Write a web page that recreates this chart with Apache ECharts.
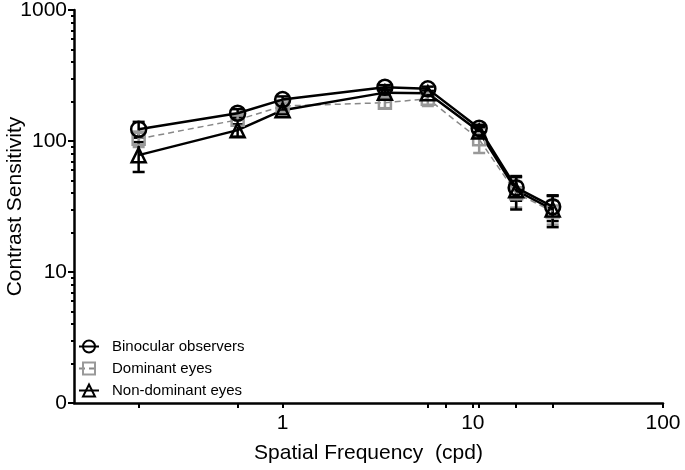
<!DOCTYPE html>
<html>
<head>
<meta charset="utf-8">
<script src="https://cdn.jsdelivr.net/npm/echarts@6/dist/echarts.min.js"></script>
<style>
html,body{margin:0;padding:0;background:#fff;}
#chart{width:685px;height:470px;}
</style>
</head>
<body>
<div id="chart"></div>
<script>
// Spatial frequencies (cpd)
const freqs = [0.175, 0.58, 1, 3.45, 5.8, 10.8, 16.9, 26.3];
// Contrast sensitivity means
const binocular = [123, 163, 207, 257, 250, 125, 44, 31.5];
const dominant = [104, 145, 185, 196, 210, 103, 40, 29];
const nonDominant = [78, 121, 172, 234, 231, 118, 42, 30];
// Error (±)
const binocularErr = [17, 12, 12, 10, 10, 8, 9, 7];
const dominantErr = [14, 12, 10, 18, 25, 22, 9, 6];
const nonDominantErr = [20, 13, 12, 10, 10, 10, 12, 8];
// Axis ticks
const xLabelTicks = [1, 10, 100];
const xMinorTicks = [0.175, 0.58, 5.8, 7.2, 10.8, 16.9, 26.3];
const yMajorTicks = [1, 10, 100, 1000];
const yMinorTicks = [2,3,4,5,6,7,8,9,20,30,40,50,60,70,80,90,200,300,400,500,600,700,800,900];

const FONT = '"Liberation Sans", Arial, sans-serif';

function pairs(vals) { return freqs.map((f, i) => [f, vals[i]]); }
function errData(vals, errs) { return freqs.map((f, i) => [f, vals[i] - errs[i], vals[i] + errs[i]]); }

function errSeries(name, vals, errs, color, width) {
  return {
    type: 'custom',
    name: name + ' err',
    data: errData(vals, errs),
    z: 1,
    silent: true,
    renderItem: function (params, api) {
      const x = api.value(0);
      const lo = api.coord([x, api.value(1)]);
      const hi = api.coord([x, api.value(2)]);
      const hw = 6;
      const style = { stroke: color, lineWidth: width, fill: null };
      return {
        type: 'group',
        children: [
          { type: 'line', shape: { x1: lo[0], y1: lo[1], x2: hi[0], y2: hi[1] }, style: style },
          { type: 'line', shape: { x1: lo[0] - hw, y1: lo[1], x2: lo[0] + hw, y2: lo[1] }, style: style },
          { type: 'line', shape: { x1: hi[0] - hw, y1: hi[1], x2: hi[0] + hw, y2: hi[1] }, style: style }
        ]
      };
    }
  };
}

const chart = echarts.init(document.getElementById('chart'), null, { renderer: 'canvas' });

chart.setOption({
  animation: false,
  backgroundColor: '#fff',
  grid: { left: 74, right: 22, top: 10, bottom: 67, containLabel: false, outerBoundsMode: 'none' },
  legend: {
    orient: 'vertical',
    left: 73,
    top: 334,
    itemGap: 7,
    itemWidth: 20,
    itemHeight: 15,
    data: ['Binocular observers', 'Dominant eyes', 'Non-dominant eyes'],
    textStyle: { fontFamily: FONT, fontSize: 15, color: '#000', padding: [0, 0, 0, 8] }
  },
  xAxis: [{
    type: 'log',
    logBase: 10,
    min: 0.08,
    max: 100,
    name: 'Spatial Frequency  (cpd)',
    nameLocation: 'middle',
    nameGap: 40,
    nameMoveOverlap: false,
    nameTextStyle: { fontFamily: FONT, fontSize: 21, color: '#000' },
    axisLine: { lineStyle: { color: '#000', width: 2.5 } },
    axisTick: { show: true, length: 5, lineStyle: { color: '#000', width: 2 }, customValues: xLabelTicks.concat(xMinorTicks) },
    axisLabel: { fontFamily: FONT, fontSize: 21, color: '#000', margin: 10, customValues: xLabelTicks, formatter: v => String(v) },
    splitLine: { show: false },
    minorTick: { show: false }
  }],
  yAxis: [{
    type: 'log',
    logBase: 10,
    min: 1,
    max: 1000,
    name: 'Contrast Sensitivity',
    nameLocation: 'middle',
    nameGap: 48,
    nameMoveOverlap: false,
    nameTextStyle: { fontFamily: FONT, fontSize: 21, color: '#000' },
    axisLine: { lineStyle: { color: '#000', width: 2.5 } },
    axisTick: { show: true, length: 6, lineStyle: { color: '#000', width: 2 }, customValues: yMajorTicks },
    axisLabel: { fontFamily: FONT, fontSize: 21, color: '#000', margin: 7, customValues: yMajorTicks, formatter: v => (v === 1 ? '0' : String(v)) },
    splitLine: { show: false }
  }, {
    type: 'log',
    logBase: 10,
    min: 1,
    max: 1000,
    position: 'left',
    offset: 0,
    axisLine: { show: false },
    axisTick: { show: true, length: 3, lineStyle: { color: '#000', width: 2 }, customValues: yMinorTicks },
    axisLabel: { show: false },
    splitLine: { show: false }
  }],
  series: [
    errSeries('Binocular observers', binocular, binocularErr, '#000', 2.5),
    errSeries('Dominant eyes', dominant, dominantErr, '#999', 2.5),
    errSeries('Non-dominant eyes', nonDominant, nonDominantErr, '#000', 2.5),
    {
      name: 'Binocular observers', type: 'line', data: pairs(binocular), z: 5,
      symbol: 'circle', symbolSize: 15, showAllSymbol: true,
      lineStyle: { color: '#000', width: 2.5 },
      itemStyle: { color: 'rgba(255,255,255,0)', borderColor: '#000', borderWidth: 2.5 }
    },
    {
      name: 'Dominant eyes', type: 'line', data: pairs(dominant), z: 4,
      symbol: 'rect', symbolSize: 12, showAllSymbol: true,
      lineStyle: { color: '#888', width: 1.5, type: [6, 4] },
      itemStyle: { color: 'rgba(255,255,255,0)', borderColor: '#999', borderWidth: 2.5 }
    },
    {
      name: 'Non-dominant eyes', type: 'line', data: pairs(nonDominant), z: 4,
      symbol: 'triangle', symbolSize: 14, showAllSymbol: true,
      lineStyle: { color: '#000', width: 2.5 },
      itemStyle: { color: 'rgba(255,255,255,0)', borderColor: '#000', borderWidth: 2.5 }
    }
  ]
});
</script>
</body>
</html>
